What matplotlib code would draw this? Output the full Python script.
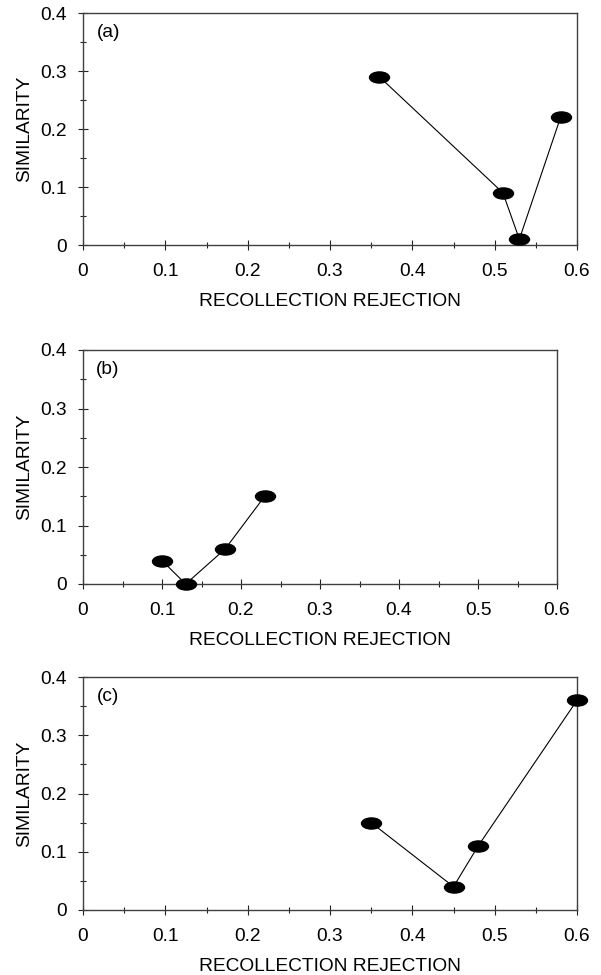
import matplotlib
matplotlib.use("Agg")
import matplotlib.pyplot as plt
from matplotlib.markers import MarkerStyle
from matplotlib.transforms import Affine2D
from matplotlib.ticker import MultipleLocator

plt.rcParams['font.family'] = ['Liberation Sans', 'DejaVu Sans']

# data
a_x = [0.36, 0.51, 0.53, 0.58]
a_y = [0.29, 0.09, 0.01, 0.22]
b_x = [0.10, 0.13, 0.18, 0.23]
b_y = [0.04, 0.00, 0.06, 0.15]
c_x = [0.35, 0.45, 0.48, 0.60]
c_y = [0.15, 0.04, 0.11, 0.36]
panel_names = ['(a)', '(b)', '(c)']
x_ticks = [0, 0.1, 0.2, 0.3, 0.4, 0.5, 0.6]
y_ticks = [0, 0.1, 0.2, 0.3, 0.4]

fig = plt.figure(figsize=(6.01, 9.75), dpi=100)

W, H = 601.0, 975.0
# left, top, right, bottom in pixels
boxes = [(83, 13, 577, 245), (83, 350, 557, 584), (83, 677, 577, 910)]
series = [(a_x, a_y), (b_x, b_y), (c_x, c_y)]

ellipse = MarkerStyle('o', transform=Affine2D().scale(1.8, 1.0))
fs = 13.8

for (l, t, r, b), (xs, ys), name in zip(boxes, series, panel_names):
    ax = fig.add_axes([l / W, (H - b) / H, (r - l) / W, (b - t) / H])
    ax.plot(xs, ys, color='black', lw=0.8, zorder=2)
    ax.plot(xs, ys, ls='none', marker=ellipse, ms=8, color='black',
            clip_on=False, zorder=3)
    ax.set_xlim(0, 0.6)
    ax.set_ylim(0, 0.4)
    ax.set_xticks(x_ticks)
    ax.set_xticklabels(['0' if v == 0 else f'{v:.1f}' for v in x_ticks])
    ax.set_yticks(y_ticks)
    ax.set_yticklabels(['0' if v == 0 else f'{v:.1f}' for v in y_ticks])
    ax.xaxis.set_minor_locator(MultipleLocator(0.05))
    ax.yaxis.set_minor_locator(MultipleLocator(0.05))
    ax.tick_params(which='major', direction='inout', length=7, width=0.8,
                   color='#222222', labelsize=fs)
    ax.tick_params(axis='x', which='major', pad=9.5)
    ax.tick_params(axis='y', which='major', pad=8)
    ax.tick_params(which='minor', direction='inout', length=5, width=0.8,
                   color='#222222')
    for s in ax.spines.values():
        s.set_color('#404040')
        s.set_linewidth(1.0)
    ax.set_xlabel('RECOLLECTION REJECTION', fontsize=fs, labelpad=9.5)
    ax.set_ylabel('SIMILARITY', fontsize=fs, labelpad=5)
    ax.text(0.028, 0.915, name, transform=ax.transAxes, fontsize=fs,
            ha='left', va='center')

fig.savefig('out.png', dpi=100)
